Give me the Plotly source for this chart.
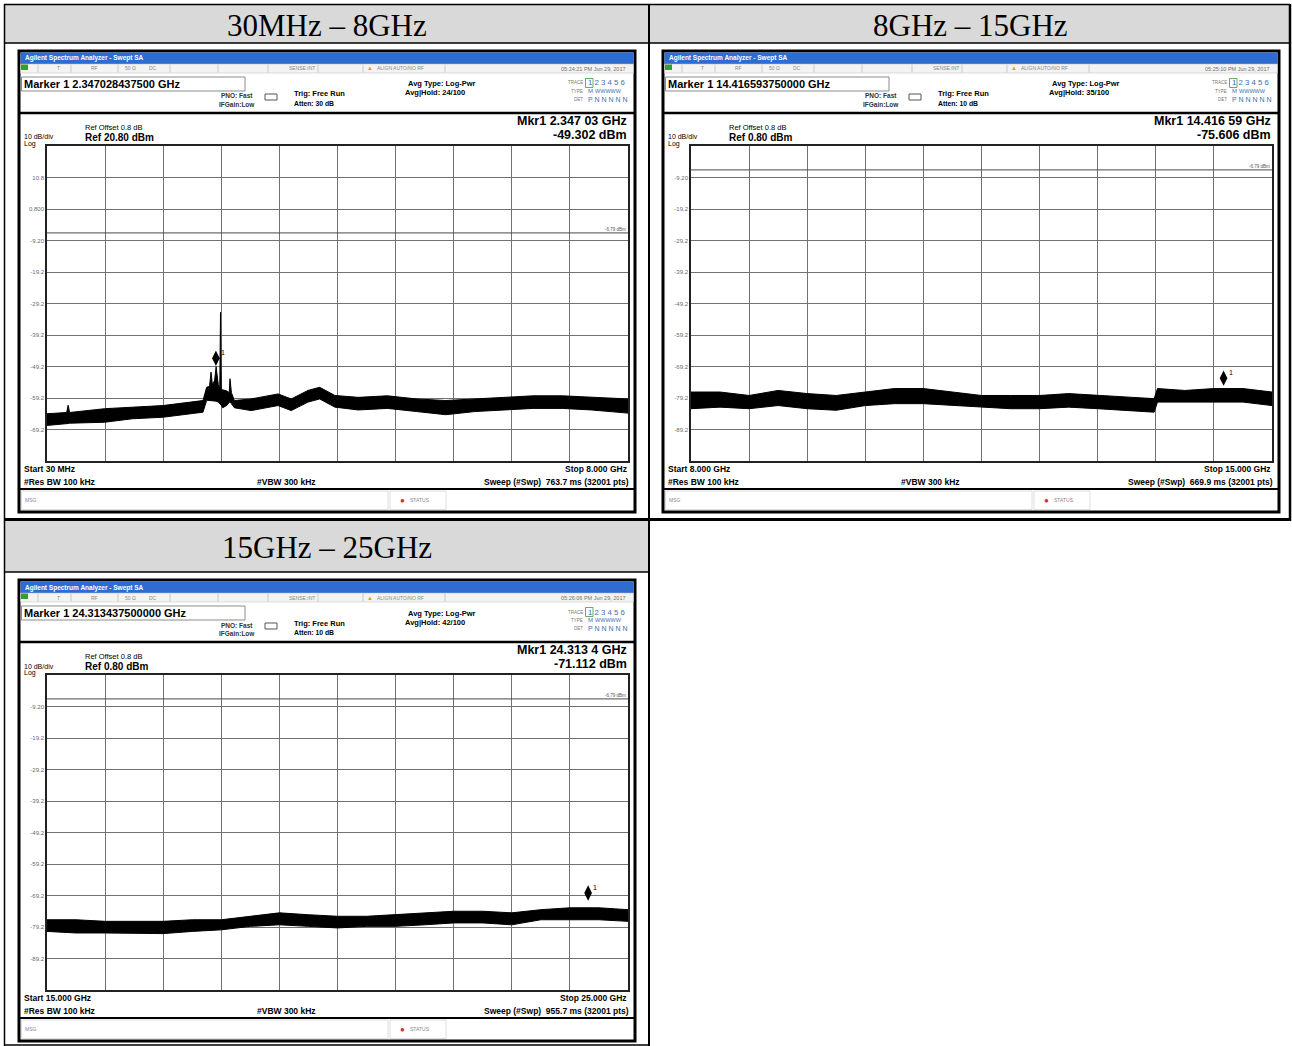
import plotly.graph_objects as go

W, H = 1292, 1046
SANS = "Liberation Sans, Arial, sans-serif"
SERIF = "Liberation Serif, Times New Roman, serif"
GRID = "#727272"

headers = ["30MHz \u2013 8GHz", "8GHz \u2013 15GHz", "15GHz \u2013 25GHz"]

# trace envelopes (GHz / dBm)
f1 = [0.03, 0.30, 0.32, 0.34, 0.82, 1.20, 1.62, 2.00, 2.17, 2.22, 2.26, 2.28, 2.30, 2.33,
      2.35, 2.38, 2.40, 2.41, 2.42, 2.44, 2.50, 2.53, 2.54, 2.56, 2.60, 2.83, 3.20, 3.38,
      3.61, 3.77, 3.98, 4.30, 4.70, 5.10, 5.50, 5.90, 6.30, 6.70, 7.10, 7.50, 8.00]
hi1 = [-64.2, -63.8, -61.5, -63.8, -62.6, -62.1, -61.6, -60.5, -60.0, -55.8, -55.5, -51.0, -55.2, -53.5,
       -49.3, -55.0, -56.0, -32.0, -56.5, -56.6, -57.0, -57.5, -53.1, -57.5, -60.0, -59.5, -57.9, -59.5,
       -56.8, -55.8, -58.4, -59.0, -58.5, -59.5, -60.0, -59.5, -59.0, -58.5, -58.5, -59.0, -59.5]
lo1 = [-67.9, -67.5, -67.3, -67.2, -66.9, -65.8, -65.3, -64.2, -63.7, -59.9, -60.0, -60.0, -60.0, -60.0,
       -60.2, -60.5, -61.0, -61.1, -61.5, -62.3, -61.5, -60.5, -60.5, -61.0, -62.3, -63.2, -61.6, -63.2,
       -60.5, -59.5, -62.1, -63.0, -62.5, -63.5, -64.5, -63.5, -63.0, -62.5, -62.5, -63.0, -64.0]

f2 = [8.00, 8.35, 8.70, 9.05, 9.40, 9.75, 10.10, 10.45, 10.80, 11.15, 11.50,
      11.85, 12.20, 12.55, 12.90, 13.25, 13.58, 13.62, 13.95, 14.30, 14.65, 15.00]
hi2 = [-77.3, -77.3, -78.4, -76.8, -77.8, -78.4, -77.3, -76.2, -76.2, -77.3, -78.4,
       -78.4, -78.4, -77.8, -78.4, -78.9, -79.4, -76.2, -76.8, -76.2, -76.2, -77.3]
lo2 = [-82.6, -82.1, -82.6, -81.6, -82.6, -83.1, -81.6, -81.0, -81.0, -81.6, -82.1,
       -82.6, -82.6, -82.1, -82.6, -83.1, -83.7, -80.5, -80.5, -80.5, -80.5, -81.6]

f3 = [15.0, 15.5, 16.0, 16.5, 17.0, 17.5, 18.0, 18.5, 19.0, 19.5, 20.0,
      20.5, 21.0, 21.5, 22.0, 22.5, 23.0, 23.5, 24.0, 24.5, 25.0]
hi3 = [-76.9, -76.9, -77.4, -77.4, -77.4, -76.9, -76.9, -75.8, -74.7, -75.3, -75.8,
       -75.8, -75.3, -74.7, -74.2, -74.2, -74.7, -73.7, -73.1, -73.1, -73.7]
lo3 = [-80.6, -81.1, -81.1, -81.1, -81.3, -80.6, -80.1, -79.0, -78.5, -79.0, -79.5,
       -79.0, -79.0, -78.5, -77.9, -77.9, -78.5, -76.9, -76.9, -76.9, -77.4]

freqs = [f1, f2, f3]
highs = [hi1, hi2, hi3]
lows = [lo1, lo2, lo3]

f_start = [0.03, 8.0, 15.0]
f_stop = [8.0, 15.0, 25.0]
ref_level = [20.80, 0.80, 0.80]
ref_labels = ["Ref 20.80 dBm", "Ref 0.80 dBm", "Ref 0.80 dBm"]
tick_labels = [
    ["10.8", "0.800", "-9.20", "-19.2", "-29.2", "-39.2", "-49.2", "-59.2", "-69.2"],
    ["-9.20", "-19.2", "-29.2", "-39.2", "-49.2", "-59.2", "-69.2", "-79.2", "-89.2"],
    ["-9.20", "-19.2", "-29.2", "-39.2", "-49.2", "-59.2", "-69.2", "-79.2", "-89.2"],
]
mkr_freq = [2.34703, 14.41659, 24.31344]
mkr_level = [-49.302, -75.606, -71.112]
marker_text = ["Marker 1 2.347028437500 GHz", "Marker 1 14.416593750000 GHz",
               "Marker 1 24.313437500000 GHz"]
mkr_freq_text = ["Mkr1 2.347 03 GHz", "Mkr1 14.416 59 GHz", "Mkr1 24.313 4 GHz"]
mkr_level_text = ["-49.302 dBm", "-75.606 dBm", "-71.112 dBm"]
atten = ["Atten: 30 dB", "Atten: 10 dB", "Atten: 10 dB"]
avg_hold = ["Avg|Hold: 24/100", "Avg|Hold: 35/100", "Avg|Hold: 42/100"]
stamps = ["05:24:21 PM Jun 29, 2017", "05:25:10 PM Jun 29, 2017", "05:26:06 PM Jun 29, 2017"]
start_text = ["Start 30 MHz", "Start 8.000 GHz", "Start 15.000 GHz"]
stop_text = ["Stop 8.000 GHz", "Stop 15.000 GHz", "Stop 25.000 GHz"]
sweep_text = ["763.7 ms (32001 pts)", "669.9 ms (32001 pts)", "955.7 ms (32001 pts)"]
display_line = -6.79

offsets = [(0, 0), (644, 0), (0, 529)]

shapes = []
annots = []


def px(x):
    return x / W


def py(y):
    return 1 - y / H


def rect(x0, y0, x1, y1, fill="rgba(0,0,0,0)", line="black", lw=1):
    shapes.append(dict(type="rect", xref="paper", yref="paper",
                       x0=px(x0), x1=px(x1), y0=py(y1), y1=py(y0),
                       fillcolor=fill, line=dict(color=line, width=lw), layer="below"))


def seg(x0, y0, x1, y1, color="black", lw=1):
    shapes.append(dict(type="line", xref="paper", yref="paper",
                       x0=px(x0), x1=px(x1), y0=py(y0), y1=py(y1),
                       line=dict(color=color, width=lw)))


def text(x, y, s, size=7, color="black", anchor="left", bold=False, family=SANS):
    annots.append(dict(xref="paper", yref="paper", x=px(x), y=py(y),
                       text=f"<b>{s}</b>" if bold else s, showarrow=False,
                       xanchor=anchor, yanchor="middle", borderpad=0,
                       font=dict(size=size, color=color, family=family)))


# table cells
rect(4, 4, 648, 43, fill="#d9d9d9", line="rgba(0,0,0,0)", lw=0)
rect(650, 4, 1290, 43, fill="#d9d9d9", line="rgba(0,0,0,0)", lw=0)
rect(4, 521, 648, 572, fill="#d9d9d9", line="rgba(0,0,0,0)", lw=0)
seg(4, 4.5, 1290, 4.5, lw=1.5)
seg(4.5, 4, 4.5, 1046, lw=1.5)
seg(649, 4, 649, 1046, lw=2)
seg(1290, 4, 1290, 521, lw=2.5)
seg(4, 43, 1290, 43, lw=1.5)
seg(4, 519.5, 1291, 519.5, lw=3)
seg(4, 572, 649, 572, lw=1.5)
seg(4, 1045, 649, 1045, lw=1.5)
text(327, 25, headers[0], size=31, family=SERIF, anchor="center")
text(970, 25, headers[1], size=31, family=SERIF, anchor="center")
text(327, 547, headers[2], size=31, family=SERIF, anchor="center")

fig = go.Figure()

for i, (ox, oy) in enumerate(offsets):
    n = "" if i == 0 else str(i + 1)

    def X(x):
        return x + ox

    def Y(y):
        return y + oy

    # window frame
    rect(X(19), Y(51), X(635), Y(512), fill="white", line="black", lw=3)
    rect(X(20.5), Y(52.5), X(633.5), Y(64), fill="#2e6cd2", line="rgba(0,0,0,0)", lw=0)
    text(X(24), Y(58.5), "Agilent Spectrum Analyzer - Swept SA", size=6.5, color="white", bold=True)
    rect(X(20.5), Y(64), X(633.5), Y(73), fill="#f3f3f3", line="#b8b8b8", lw=0.5)
    rect(X(21), Y(64.5), X(28), Y(70), fill="#30a030", line="rgba(0,0,0,0)", lw=0)
    for sx in [38, 71, 118, 170, 218, 268, 318, 363, 445]:
        seg(X(sx), Y(64.5), X(sx), Y(72.5), color="#b0b0b0", lw=0.6)
    for sx, s in [(56, "T"), (90, "RF"), (124, "50 \u03a9"), (148, "DC"), (288, "SENSE:INT"),
                  (376, "ALIGN AUTO/NO RF")]:
        text(X(sx), Y(68.5), s, size=5, color="#8a8a8a")
    text(X(370), Y(68.5), "\u25b2", size=6, color="#d8a800", anchor="center")
    text(X(627), Y(69), stamps[i], size=5.5, color="#707070", anchor="right")

    # marker box and settings
    rect(X(21.5), Y(77), X(245), Y(91), fill="white", line="#8c8c8c", lw=1)
    text(X(23), Y(84), marker_text[i], size=11, bold=True)
    text(X(237), Y(96), "PNO: Fast", size=6.5, bold=True, anchor="center", color="#333")
    text(X(237), Y(104), "IFGain:Low", size=6.5, bold=True, anchor="center", color="#333")
    rect(X(265), Y(94), X(277), Y(100), fill="white", line="#555", lw=1)
    text(X(293), Y(94), "Trig: Free Run", size=7.5, bold=True)
    text(X(293), Y(103), atten[i], size=6.8, bold=True)
    text(X(407), Y(84), "Avg Type: Log-Pwr", size=7.5, bold=True)
    text(X(404), Y(93), avg_hold[i], size=7.5, bold=True)
    text(X(584), Y(83), "TRACE", size=4.5, color="#777", anchor="right")
    text(X(584), Y(91), "TYPE", size=4.5, color="#777", anchor="right")
    text(X(584), Y(99), "DET", size=4.5, color="#777", anchor="right")
    rect(X(585.5), Y(78.5), X(593), Y(87.5), fill="white", line="#3c9a3c", lw=0.8)
    text(X(587), Y(83), "1 2 3 4 5 6", size=7.8, color="#3a6fb0")
    text(X(587), Y(91), "M", size=6, color="#3a6fb0")
    text(X(594), Y(91), "WWWWW", size=5.5, color="#3a6fb0")
    text(X(587), Y(99.5), "P N N N N N", size=7, color="#3a6fb0")

    # graph area header
    seg(X(19), Y(113), X(635), Y(113), lw=2.5)
    text(X(84), Y(127), "Ref Offset 0.8 dB", size=7.5)
    text(X(23), Y(137), "10 dB/div", size=7)
    text(X(84), Y(137.5), ref_labels[i], size=10, bold=True)
    text(X(23), Y(144), "Log", size=7)
    text(X(628), Y(121), mkr_freq_text[i], size=12.5, bold=True, anchor="right")
    text(X(628), Y(135), mkr_level_text[i], size=12.5, bold=True, anchor="right")

    # display line
    dl_y = 146 + (ref_level[i] - display_line) * 3.15
    seg(X(47), Y(dl_y), X(628), Y(dl_y), color="#4a4a4a", lw=1)
    text(X(627), Y(dl_y - 3.5), "-6.79 dBm", size=4.5, color="#555", anchor="right")

    # footer
    text(X(23), Y(469), start_text[i], size=8.5, bold=True)
    text(X(23), Y(482), "#Res BW 100 kHz", size=8.5, bold=True)
    text(X(256), Y(482), "#VBW 300 kHz", size=8.5, bold=True)
    text(X(628), Y(469), stop_text[i], size=8.5, bold=True, anchor="right")
    text(X(630), Y(482), "Sweep (#Swp)  " + sweep_text[i], size=8.5, bold=True, anchor="right")
    seg(X(19), Y(489), X(635), Y(489), lw=2)
    rect(X(21.5), Y(491), X(388), Y(509.5), fill="white", line="#c8c8c8", lw=0.6)
    rect(X(390), Y(491), X(446), Y(509.5), fill="white", line="#c8c8c8", lw=0.6)
    text(X(24), Y(500), "MSG", size=5, color="#888")
    text(X(402), Y(500), "\u25cf", size=8, color="#d83030", anchor="center")
    text(X(409), Y(500), "STATUS", size=5, color="#888")

    # graticule
    ref = ref_level[i]
    fig.add_trace(go.Scatter(x=freqs[i], y=lows[i], mode="lines",
                             line=dict(color="black", width=1),
                             xaxis="x" + n, yaxis="y" + n, showlegend=False, hoverinfo="skip"))
    fig.add_trace(go.Scatter(x=freqs[i], y=highs[i], mode="lines", fill="tonexty",
                             fillcolor="black", line=dict(color="black", width=1),
                             xaxis="x" + n, yaxis="y" + n, showlegend=False, hoverinfo="skip"))
    fig.add_trace(go.Scatter(x=[mkr_freq[i]], y=[mkr_level[i] + 2.7], mode="markers",
                             marker=dict(symbol="diamond-tall", size=11, color="black"),
                             xaxis="x" + n, yaxis="y" + n, showlegend=False, hoverinfo="skip"))
    annots.append(dict(xref="x" + n, yref="y" + n, x=mkr_freq[i], y=mkr_level[i] + 2.7,
                       text="1", showarrow=False, xshift=7, yshift=6,
                       font=dict(size=7, color="black", family=SANS)))

    span = f_stop[i] - f_start[i]
    fig.update_layout({
        "xaxis" + n: dict(domain=[px(X(47)), px(X(628))], range=[f_start[i], f_stop[i]],
                          tick0=f_start[i], dtick=span / 10, showticklabels=False,
                          showgrid=True, gridcolor=GRID, gridwidth=1.2, zeroline=False,
                          showline=True, linecolor="#222", linewidth=1.5, mirror=True,
                          ticks="", anchor="y" + n, fixedrange=True),
        "yaxis" + n: dict(domain=[py(Y(461)), py(Y(146))], range=[ref - 100, ref],
                          tickvals=[ref - 10 * k for k in range(1, 10)],
                          ticktext=tick_labels[i], tickfont=dict(size=6, color="#6a6a6a", family=SANS),
                          showgrid=True, gridcolor=GRID, gridwidth=1.2, zeroline=False,
                          showline=True, linecolor="#222", linewidth=1.5, mirror=True,
                          ticks="", anchor="x" + n, fixedrange=True),
    })

fig.update_layout(
    width=W, height=H,
    margin=dict(l=0, r=0, t=0, b=0),
    paper_bgcolor="white",
    plot_bgcolor="rgba(0,0,0,0)",
    shapes=shapes,
    annotations=annots,
    showlegend=False,
)

fig.write_html("out.html", config={"displayModeBar": False},
               post_script="document.body.style.margin='0';")
